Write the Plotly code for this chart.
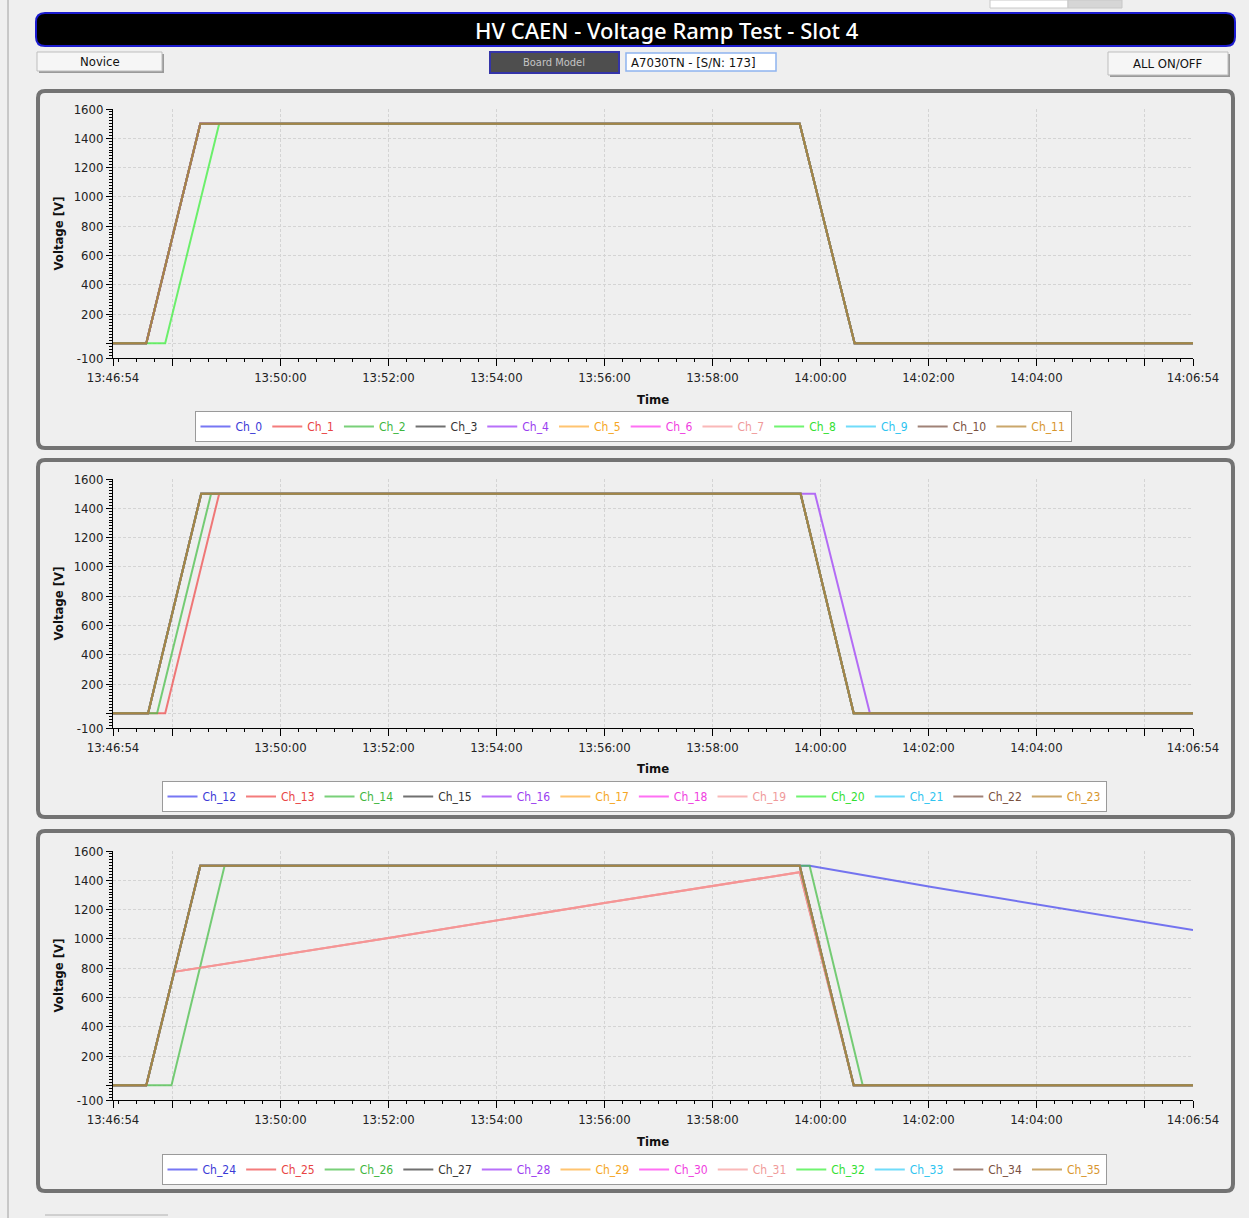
import plotly.graph_objects as go

W, H = 1249, 1218
DAY = "2024-01-01 "
FONT = "DejaVu Sans Condensed, Liberation Sans Narrow, sans-serif"

# ---------------- data ----------------
PANEL1_NAMES = ["Ch_0", "Ch_1", "Ch_2", "Ch_3", "Ch_4", "Ch_5", "Ch_6", "Ch_7", "Ch_8", "Ch_9", "Ch_10", "Ch_11"]
PANEL2_NAMES = ["Ch_12", "Ch_13", "Ch_14", "Ch_15", "Ch_16", "Ch_17", "Ch_18", "Ch_19", "Ch_20", "Ch_21", "Ch_22", "Ch_23"]
PANEL3_NAMES = ["Ch_24", "Ch_25", "Ch_26", "Ch_27", "Ch_28", "Ch_29", "Ch_30", "Ch_31", "Ch_32", "Ch_33", "Ch_34", "Ch_35"]

LINE_COLORS = ["#4a4af0", "#f05050", "#4cc04c", "#404040", "#a040f8", "#ffb040",
               "#ff40f0", "#f8a0a0", "#40f040", "#40d0f8", "#80584a", "#b88a3a"]
TEXT_COLORS = ["#3a3ad6", "#e84444", "#3eb63e", "#333333", "#9a3ef0", "#f5a623",
               "#f03ee0", "#f09a9a", "#33e033", "#2ec4f0", "#7a5040", "#d8962e"]

T_START = "13:46:54"
T_END = "14:06:54"
X_TICKS = ["13:46:54", "13:48:00", "13:50:00", "13:52:00", "13:54:00", "13:56:00",
           "13:58:00", "14:00:00", "14:02:00", "14:04:00", "14:06:00", "14:06:54"]
X_TICK_TEXT = ["13:46:54", "", "13:50:00", "13:52:00", "13:54:00", "13:56:00",
               "13:58:00", "14:00:00", "14:02:00", "14:04:00", "", "14:06:54"]
Y_TICKS = [-100, 0, 200, 400, 600, 800, 1000, 1200, 1400, 1600]
Y_TICK_TEXT = ["-100", "", "200", "400", "600", "800", "1000", "1200", "1400", "1600"]

# panel 1 profiles
P1_GROUP_T = ["13:46:54", "13:47:31", "13:48:31", "13:59:37", "14:00:38", "14:06:54"]
P1_GROUP_V = [0, 0, 1500, 1500, 0, 0]
P1_CH8_T = ["13:46:54", "13:47:52", "13:48:52", "13:59:37", "14:00:38", "14:06:54"]
P1_CH8_V = [0, 0, 1500, 1500, 0, 0]

# panel 2 profiles
P2_GROUP_T = ["13:46:54", "13:47:33", "13:48:32", "13:59:38", "14:00:37", "14:06:54"]
P2_GROUP_V = [0, 0, 1500, 1500, 0, 0]
P2_CH13_T = ["13:46:54", "13:47:52", "13:48:52", "13:59:38", "14:00:37", "14:06:54"]
P2_CH13_V = [0, 0, 1500, 1500, 0, 0]
P2_CH14_T = ["13:46:54", "13:47:43", "13:48:43", "13:59:38", "14:00:37", "14:06:54"]
P2_CH14_V = [0, 0, 1500, 1500, 0, 0]
P2_CH16_T = ["13:46:54", "13:47:33", "13:48:32", "13:59:54", "14:00:55", "14:06:54"]
P2_CH16_V = [0, 0, 1500, 1500, 0, 0]

# panel 3 profiles
P3_GROUP_T = ["13:46:54", "13:47:31", "13:48:31", "13:59:37", "14:00:37", "14:06:54"]
P3_GROUP_V = [0, 0, 1500, 1500, 0, 0]
P3_CH24_T = ["13:46:54", "13:47:31", "13:48:31", "13:59:48", "14:02:02", "14:04:00", "14:06:54"]
P3_CH24_V = [0, 0, 1500, 1500, 1356, 1238, 1060]
P3_CH26_T = ["13:46:54", "13:47:59", "13:48:58", "13:59:48", "14:00:47", "14:06:54"]
P3_CH26_V = [0, 0, 1500, 1500, 0, 0]
P3_SLOW_T = ["13:46:54", "13:47:31", "13:48:02", "13:52:00", "13:56:00", "13:59:37", "14:00:37", "14:06:54"]
P3_SLOW_V = [0, 0, 775, 1006, 1245, 1455, 0, 0]

PANEL1_PROFILES = {"Ch_8": (P1_CH8_T, P1_CH8_V)}
PANEL2_PROFILES = {"Ch_13": (P2_CH13_T, P2_CH13_V), "Ch_14": (P2_CH14_T, P2_CH14_V),
                   "Ch_16": (P2_CH16_T, P2_CH16_V)}
PANEL3_PROFILES = {"Ch_24": (P3_CH24_T, P3_CH24_V), "Ch_25": (P3_SLOW_T, P3_SLOW_V),
                   "Ch_26": (P3_CH26_T, P3_CH26_V), "Ch_31": (P3_SLOW_T, P3_SLOW_V)}

# ---------------- helpers ----------------
def px(x):
    return x / W


def py(y):
    return 1 - y / H


def rrect(x0, y0, x1, y1, r):
    return (f"M{px(x0 + r)},{py(y0)} L{px(x1 - r)},{py(y0)} Q{px(x1)},{py(y0)} {px(x1)},{py(y0 + r)} "
            f"L{px(x1)},{py(y1 - r)} Q{px(x1)},{py(y1)} {px(x1 - r)},{py(y1)} "
            f"L{px(x0 + r)},{py(y1)} Q{px(x0)},{py(y1)} {px(x0)},{py(y1 - r)} "
            f"L{px(x0)},{py(y0 + r)} Q{px(x0)},{py(y0)} {px(x0 + r)},{py(y0)} Z")


def t(s):
    return DAY + s


def label(x, y, text, size=13, color="#111", xanchor="center", angle=0, family=FONT, weight=None):
    f = dict(family=family, size=size, color=color)
    if weight:
        f["weight"] = weight
    return dict(x=px(x), y=py(y), xref="paper", yref="paper", text=text, showarrow=False,
                xanchor=xanchor, yanchor="middle", textangle=angle, font=f)


fig = go.Figure()

PANELS = [
    (PANEL1_NAMES, PANEL1_PROFILES, (P1_GROUP_T, P1_GROUP_V), 109, 358, "legend", 426.5, 633),
    (PANEL2_NAMES, PANEL2_PROFILES, (P2_GROUP_T, P2_GROUP_V), 479, 728, "legend2", 796.5, 634),
    (PANEL3_NAMES, PANEL3_PROFILES, (P3_GROUP_T, P3_GROUP_V), 851, 1100, "legend3", 1169.5, 634),
]

PLOT_X0, PLOT_X1 = 113, 1193
layout_axes = {}
legends = {}
annotations = []
shapes = []

for k, (names, profiles, group, ytop, ybot, legname, legy, legx) in enumerate(PANELS):
    sfx = "" if k == 0 else str(k + 1)
    for i, name in enumerate(names):
        tt, vv = profiles.get(name, group)
        fig.add_trace(go.Scatter(
            x=[t(s) for s in tt], y=vv, mode="lines",
            name=f"<span style='color:{TEXT_COLORS[i]}'>{name}</span>",
            line=dict(color=LINE_COLORS[i], width=2),
            opacity=0.75,
            xaxis="x" + sfx, yaxis="y" + sfx, legend=legname,
        ))
    layout_axes["xaxis" + sfx] = dict(
        domain=[px(PLOT_X0), px(PLOT_X1)], anchor="y" + sfx, type="date",
        range=[t(T_START), t(T_END)],
        tickmode="array", tickvals=[t(s) for s in X_TICKS], ticktext=X_TICK_TEXT,
        ticks="outside", ticklen=7, tickcolor="black", showline=True, linecolor="black",
        showgrid=True, gridcolor="#d4d4d4", griddash="3px,2px", gridwidth=1,
        tickfont=dict(family=FONT, size=13, color="#222"), zeroline=False, automargin=False,
        minor=dict(tickmode="linear", tick0=t("13:47:00"), dtick=20000, ticks="outside",
                   ticklen=3, tickcolor="black", showgrid=False),
    )
    layout_axes["yaxis" + sfx] = dict(
        domain=[py(ybot), py(ytop)], anchor="x" + sfx, range=[-100, 1600],
        tickmode="array", tickvals=Y_TICKS, ticktext=Y_TICK_TEXT,
        ticks="outside", ticklen=6, tickcolor="black", showline=True, linecolor="black",
        showgrid=True, gridcolor="#d4d4d4", griddash="3px,2px", gridwidth=1,
        tickfont=dict(family=FONT, size=13, color="#222"), zeroline=False, automargin=False,
        minor=dict(tickmode="linear", tick0=0, dtick=20, ticks="outside",
                   ticklen=3, tickcolor="black", showgrid=False),
    )
    legends[legname] = dict(
        orientation="h", x=px(legx), xanchor="center", y=py(legy), yanchor="middle",
        bgcolor="white", bordercolor="#9a9a9a", borderwidth=1, itemwidth=30,
        font=dict(family=FONT, size=12), tracegroupgap=0,
    )
    annotations.append(label(653, ybot + 41, "<b>Time</b>", size=13))
    annotations.append(label(58, (ytop + ybot) / 2, "<b>Voltage [V]</b>", size=13, angle=-90))

# panel frames
for (y0, y1) in [(91, 448), (460, 817), (831, 1191)]:
    shapes.append(dict(type="path", path=rrect(38, y0, 1233, y1, 7), xref="paper", yref="paper",
                       line=dict(color="#737373", width=4), fillcolor="#efefef", layer="below"))

# title bar
shapes.append(dict(type="path", path=rrect(36, 13, 1235, 46, 9), xref="paper", yref="paper",
                   line=dict(color="#1c1cd0", width=2), fillcolor="black", layer="below"))
annotations.append(label(667, 30, "HV CAEN - Voltage Ramp Test - Slot 4", size=22, color="white",
                         family="Noto Sans, Open Sans, sans-serif", weight=500))


def button(x0, y0, x1, y1, text, fill, border, fcolor, fsize):
    shapes.append(dict(type="rect", x0=px(x0 + 2), x1=px(x1 + 2), y0=py(y0 + 2), y1=py(y1 + 2),
                       xref="paper", yref="paper", line=dict(width=0), fillcolor="#9a9a9a", layer="below"))
    shapes.append(dict(type="rect", x0=px(x0), x1=px(x1), y0=py(y0), y1=py(y1),
                       xref="paper", yref="paper", line=dict(color=border, width=1), fillcolor=fill, layer="below"))
    annotations.append(label((x0 + x1) / 2, (y0 + y1) / 2, text, size=fsize, color=fcolor))


button(37, 52, 162, 71, "Novice", "#f6f6f6", "#bdbdbd", "#111", 13)
button(1108, 52, 1228, 75, "ALL ON/OFF", "#f6f6f6", "#bdbdbd", "#111", 13)
shapes.append(dict(type="rect", x0=px(490), x1=px(619), y0=py(52), y1=py(73), xref="paper", yref="paper",
                   line=dict(color="#3434a8", width=2), fillcolor="#4e4e4e", layer="below"))
annotations.append(label(554, 62, "Board Model", size=11, color="#c4c4c4"))
shapes.append(dict(type="rect", x0=px(626), x1=px(776), y0=py(53), y1=py(71), xref="paper", yref="paper",
                   line=dict(color="#8fb4f0", width=1.5), fillcolor="white", layer="below"))
annotations.append(label(629, 62, "A7030TN - [S/N: 173]", size=13, xanchor="left"))

# page decorations
shapes.append(dict(type="line", x0=px(8), x1=px(8), y0=0, y1=1, xref="paper", yref="paper",
                   line=dict(color="#a0a0a0", width=1), layer="below"))
shapes.append(dict(type="rect", x0=px(990), x1=px(1068), y0=py(0), y1=py(8), xref="paper", yref="paper",
                   line=dict(color="#c8c8c8", width=1), fillcolor="white", layer="below"))
shapes.append(dict(type="rect", x0=px(1068), x1=px(1122), y0=py(0), y1=py(8), xref="paper", yref="paper",
                   line=dict(color="#c8c8c8", width=1), fillcolor="#d6d6d6", layer="below"))
shapes.append(dict(type="line", x0=px(45), x1=px(168), y0=py(1215), y1=py(1215), xref="paper", yref="paper",
                   line=dict(color="#b0b0b0", width=1), layer="below"))

fig.update_layout(
    width=W, height=H, margin=dict(l=0, r=0, t=0, b=0, autoexpand=False),
    paper_bgcolor="#efefef", plot_bgcolor="white",
    font=dict(family=FONT, size=13, color="#222"),
    shapes=shapes, annotations=annotations, showlegend=True,
    **layout_axes, **legends,
)

fig.write_html("out.html", config={"displayModeBar": False},
               post_script="document.body.style.margin='0';document.body.style.overflow='hidden';")
